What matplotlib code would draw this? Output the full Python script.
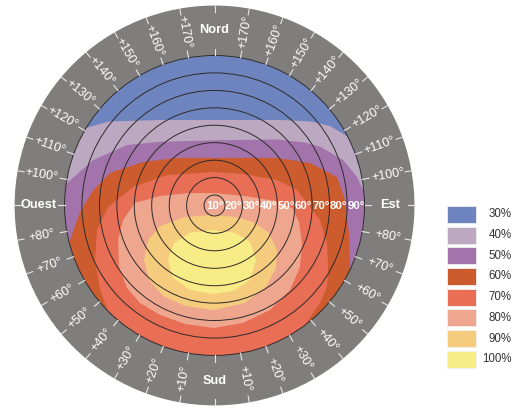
import numpy as np
import matplotlib.pyplot as plt
from matplotlib.patches import Circle, Wedge, Polygon, Rectangle

plt.rcParams['font.family'] = ['Liberation Sans', 'DejaVu Sans']

# legend levels and colours
levels = ['30%', '40%', '50%', '60%', '70%', '80%', '90%', '100%']
colors = ['#6e84bf', '#bca8c0', '#a274ab', '#cc5b2e', '#e86f56', '#eea68f', '#f5cb7d', '#f8ec86']

# tilt circles (inclinaison) and their radius (1.0 = 90 deg circle)
tilts = [10, 20, 30, 40, 50, 60, 70, 80, 90]
tilt_r = [0.07, 0.186, 0.302, 0.419, 0.535, 0.651, 0.767, 0.884, 1.0]

# azimuth labels, degrees measured from south
azim = [10, 20, 30, 40, 50, 60, 70, 80, 100, 110, 120, 130, 140, 150, 160, 170]
cardinals = {'Nord': 0, 'Est': 90, 'Sud': 180, 'Ouest': 270}

# level boundaries, x = east, y = north
# open curves (region below the curve is >= level)
b40_x = [-1.05, -0.86, -0.70, -0.36, 0.04, 0.44, 0.64, 0.77, 0.92, 1.05]
b40_y = [0.50, 0.517, 0.56, 0.57, 0.57, 0.57, 0.56, 0.53, 0.44, 0.36]

b50_x = [-1.10, -0.985, -0.81, -0.583, -0.363, 0.037, 0.417, 0.60, 0.703, 0.857, 0.948, 0.99, 1.10]
b50_y = [0.10, 0.148, 0.303, 0.403, 0.425, 0.435, 0.44, 0.42, 0.392, 0.303, 0.192, 0.103, 0.0]

b60_x = [-1.10, -0.97, -0.897, -0.81, -0.697, -0.477, -0.25, 0.037, 0.417, 0.637, 0.817, 0.87, 0.897, 0.903, 1.0]
b60_y = [-0.35, -0.25, -0.043, 0.10, 0.217, 0.29, 0.317, 0.317, 0.317, 0.283, 0.19, 0.037, -0.197, -0.417, -0.60]

b70_x = [-0.797, -0.71, -0.763, -0.797, -0.783, -0.71, -0.543, -0.317, -0.01, 0.19, 0.417, 0.55,
         0.637, 0.703, 0.75, 0.757, 0.75, 0.703, 0.603, 0.67]
b70_y = [-0.83, -0.703, -0.563, -0.363, -0.163, -0.01, 0.123, 0.203, 0.223, 0.21, 0.17, 0.103,
         -0.01, -0.097, -0.25, -0.41, -0.543, -0.65, -0.797, -0.897]

# closed curves
b80_x = [-0.003, 0.203, 0.403, 0.517, 0.563, 0.583, 0.57, 0.503, 0.37, 0.19, -0.003,
         -0.197, -0.363, -0.497, -0.583, -0.637, -0.643, -0.61, -0.53, -0.363, -0.163]
b80_y = [0.083, 0.063, 0.03, -0.017, -0.11, -0.25, -0.41, -0.563, -0.697, -0.783, -0.817,
         -0.79, -0.73, -0.65, -0.55, -0.41, -0.23, -0.097, 0.017, 0.063, 0.083]

b90_x = [-0.003, 0.137, 0.257, 0.357, 0.417, 0.41, 0.343, 0.203, -0.003, -0.197, -0.343,
         -0.437, -0.47, -0.443, -0.363, -0.197]
b90_y = [-0.063, -0.077, -0.11, -0.177, -0.297, -0.417, -0.543, -0.65, -0.697, -0.67, -0.603,
         -0.497, -0.363, -0.23, -0.137, -0.077]

b100_x = [-0.017, 0.137, 0.237, 0.277, 0.237, 0.123, -0.017, -0.163, -0.277, -0.31, -0.27, -0.163]
b100_y = [-0.163, -0.183, -0.243, -0.363, -0.497, -0.57, -0.59, -0.563, -0.483, -0.363, -0.25, -0.183]

fig = plt.figure(figsize=(5.24, 4.15), dpi=100)
ax = fig.add_axes([0, 0, 1, 1])
ax.set_xlim(-1.43, 2.063)
ax.set_ylim(-1.397, 1.37)
ax.set_aspect('equal')
ax.axis('off')

ring_out = 1.333
gray = '#7f7e7c'
ax.add_patch(Wedge((0, 0), ring_out, 0, 360, width=ring_out - 1.0, color=gray, lw=0))

disk = Circle((0, 0), 1.0, facecolor=colors[0], edgecolor='none')
ax.add_patch(disk)

regions = []
for bx, by in [(b40_x, b40_y), (b50_x, b50_y), (b60_x, b60_y), (b70_x, b70_y)]:
    pts = list(zip(bx, by)) + [(bx[-1], -1.5), (bx[0], -1.5)]
    regions.append(pts)
for bx, by in [(b80_x, b80_y), (b90_x, b90_y), (b100_x, b100_y)]:
    regions.append(list(zip(bx, by)))

for i, pts in enumerate(regions):
    p = Polygon(pts, closed=True, facecolor=colors[i + 1], edgecolor='none', joinstyle='round')
    ax.add_patch(p)
    p.set_clip_path(disk)

for r in tilt_r:
    ax.add_patch(Circle((0, 0), r, fill=False, ec='#2e2a2a', lw=0.7, zorder=3))

# tilt labels along the east axis
prev = -tilt_r[0]
for t, r in zip(tilts, tilt_r):
    ax.text((prev + r) / 2, -0.003, '%d°' % t, color='white', fontsize=8.2, fontweight='bold',
            ha='center', va='center', zorder=4)
    prev = r

# ticks on the ring
for b in range(0, 360, 10):
    phi = np.radians(90 - b)
    c, s = np.cos(phi), np.sin(phi)
    ax.plot([1.0 * c, 1.045 * c], [1.0 * s, 1.045 * s], color='#e6e6e6', lw=0.8, zorder=4)
    ax.plot([1.29 * c, ring_out * c], [1.29 * s, ring_out * s], color='#e6e6e6', lw=0.8, zorder=4)

lab_r = 1.173
for k in azim:
    for b in (180 - k, 180 + k):
        phi = 90 - b
        x, y = lab_r * np.cos(np.radians(phi)), lab_r * np.sin(np.radians(phi))
        rot = phi if -90 < phi < 90 else phi + 180
        ax.text(x, y, '+%d°' % k, color='white', fontsize=9, rotation=rot,
                rotation_mode='anchor', ha='center', va='center', zorder=4)

for name, b in cardinals.items():
    phi = np.radians(90 - b)
    ax.text(lab_r * np.cos(phi), lab_r * np.sin(phi), name, color='white', fontsize=9.2,
            fontweight='bold', ha='center', va='center', zorder=4)

# legend
for i, (lab, col) in enumerate(zip(levels, colors)):
    top = -0.003 - i * 0.138
    ax.add_patch(Rectangle((1.55, top - 0.113), 0.193, 0.113, facecolor=col,
                           edgecolor='#f0f0f0', lw=0.6))
    ax.text(1.983, top - 0.0565, lab, color='#333333', fontsize=8.3, ha='right', va='center')

fig.savefig('out.png', dpi=100)
